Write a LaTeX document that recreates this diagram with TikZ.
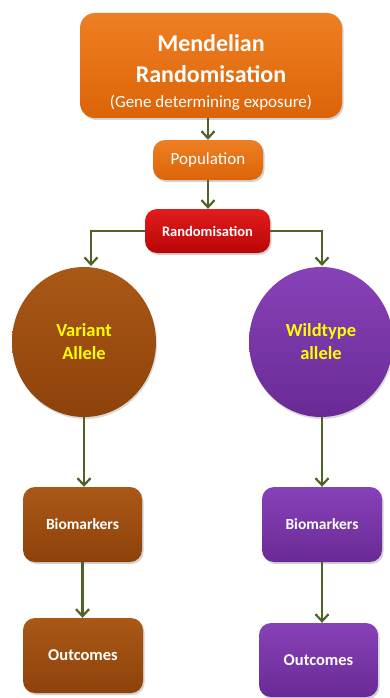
\documentclass[tikz,border=0pt]{standalone}
\usepackage{fontspec}
\setmainfont{Carlito}
\usetikzlibrary{arrows.meta,shapes.geometric,shadows}
\definecolor{arrowgreen}{HTML}{4F6228}
\definecolor{orangeA}{HTML}{EE7F22}
\definecolor{orangeB}{HTML}{DC6408}
\definecolor{redA}{HTML}{E21C1C}
\definecolor{redB}{HTML}{BA0606}
\definecolor{brownA}{HTML}{AA5816}
\definecolor{brownB}{HTML}{8E420A}
\definecolor{purpA}{HTML}{8842B8}
\definecolor{purpB}{HTML}{6A2A96}
\definecolor{yel}{HTML}{FFFF00}
\tikzset{
  boxbase/.style={rounded corners=12pt, inner sep=0pt, align=center, text=white,
    drop shadow={shadow xshift=1.5pt, shadow yshift=-2pt, opacity=0.35}},
  orangebox/.style={boxbase, top color=orangeA, bottom color=orangeB},
  redbox/.style={boxbase, top color=redA, bottom color=redB},
  brownbox/.style={boxbase, top color=brownA, bottom color=brownB},
  purplebox/.style={boxbase, top color=purpA, bottom color=purpB},
  bubble/.style={ellipse, inner sep=0pt, align=center, text=yel,
    minimum width=144pt, minimum height=150pt,
    font={\fontsize{18.5}{23}\selectfont\bfseries},
    drop shadow={shadow xshift=1pt, shadow yshift=-2pt, opacity=0.3}},
  conn/.style={draw=arrowgreen, line width=2.4pt,
    -{Straight Barb[length=7pt,width=13pt,line width=2.2pt]}},
}
\begin{document}
\begin{tikzpicture}[x=1pt,y=-1pt]
\useasboundingbox (0,0) rectangle (390,698);
% top box
\node[orangebox, rounded corners=15pt, minimum width=262pt, minimum height=105pt,
  font={\fontsize{24}{31}\selectfont\bfseries}] (top) at (211,65.5)
  {\rule{0pt}{30pt}Mendelian\\Randomisation\\[-6pt]
   \fontsize{17}{20}\selectfont\mdseries (Gene determining exposure)};
\node[orangebox, minimum width=110pt, minimum height=40pt,
  font={\fontsize{17}{20}\selectfont}] (pop) at (208,160) {Population};
\node[redbox, minimum width=125pt, minimum height=44pt,
  font={\fontsize{14.5}{17}\selectfont\bfseries}] (rand) at (207.5,231) {Randomisation};
% circles
\node[bubble, top color=brownA, bottom color=brownB] (lcirc) at (84,342) {Variant\\Allele};
\node[bubble, top color=purpA, bottom color=purpB] (rcirc) at (321,342) {Wildtype\\allele};
% lower boxes
\node[brownbox, minimum width=119pt, minimum height=75pt,
  font={\fontsize{15.5}{19}\selectfont\bfseries}] (lbio) at (82.5,524.5) {Biomarkers};
\node[purplebox, minimum width=120pt, minimum height=75pt,
  font={\fontsize{15.5}{19}\selectfont\bfseries}] (rbio) at (322,524.5) {Biomarkers};
\node[brownbox, minimum width=120pt, minimum height=75pt,
  font={\fontsize{16.5}{20}\selectfont\bfseries}] (lout) at (83,655.5) {Outcomes};
\node[purplebox, minimum width=119pt, minimum height=74pt,
  font={\fontsize{16.5}{20}\selectfont\bfseries}] (rout) at (318.5,660) {Outcomes};
% connector end points
\coordinate (lin) at (91,266);
\coordinate (rin) at (322,266);
% connectors
\draw[conn] (pop.north |- top.south) -- (pop.north);
\draw[conn] (pop.south) -- (pop.south |- rand.north);
\draw[conn] (rand.west) -| (lin);
\draw[conn] (rand.east) -| (rin);
\draw[conn] (lcirc.south) -- (lcirc.south |- lbio.north);
\draw[conn] (rbio.north |- rcirc.south) -- (rbio.north);
\draw[conn] (lbio.south) -- (lbio.south |- lout.north);
\draw[conn] (rbio.south) -- (rbio.south |- rout.north);
\end{tikzpicture}
\end{document}
